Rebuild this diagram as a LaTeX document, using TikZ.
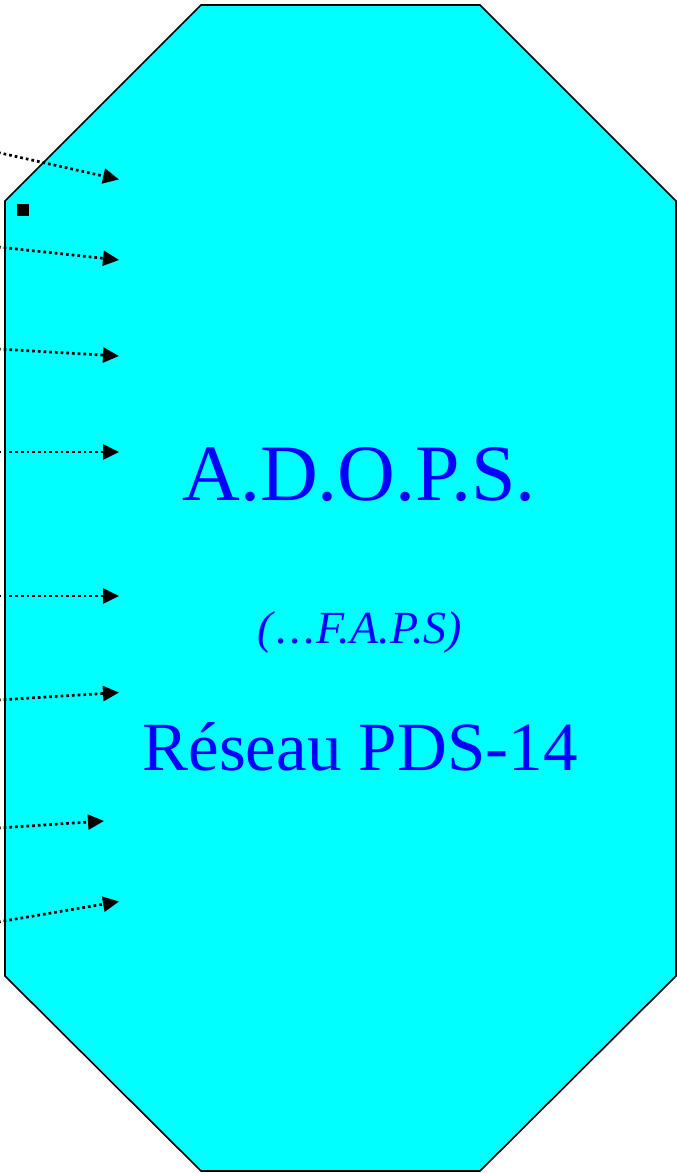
\documentclass[tikz,border=0pt]{standalone}
\usepackage{fontspec}
\setmainfont{Liberation Serif}
\usetikzlibrary{arrows.meta}
\definecolor{octfill}{RGB}{0,255,255}
\definecolor{txtblue}{RGB}{0,0,255}
\tikzset{
  link/.style={line width=2.7pt, dash pattern=on 2.7pt off 3pt, -{Triangle[length=16pt,width=15pt]}},
  octa/.style={fill=octfill, draw=black, line width=1.6pt, line join=miter},
  bigtxt/.style={text=txtblue, inner sep=0pt, anchor=base},
}
\begin{document}
\begin{tikzpicture}[x=1pt,y=-1pt]
\useasboundingbox (0,0) rectangle (677,1173);
\draw[octa] (201,5) -- (480,5) -- (676,201) -- (676,976) -- (480,1171) -- (201,1171) -- (5,976) -- (5,201) -- cycle;
\node[fill=black, minimum size=12pt, inner sep=0pt] (sq) at (22.5,209.5) {};
\node[bigtxt, font=\fontsize{80}{82}\selectfont] (adops) at (359,500) {A.D.O.P.S.};
\node[bigtxt, font=\fontsize{46}{48}\selectfont\itshape] (faps) at (360,643) {(\kern3pt.\kern2.5pt.\kern2.5pt.\kern1pt F.A.P.S)};
\node[bigtxt, font=\fontsize{69}{71}\selectfont] (reseau) at (360,770) {Réseau PDS-14};
\coordinate (s1) at (-2,152.5); \coordinate (t1) at (119,179.5);
\coordinate (s2) at (-2,247);   \coordinate (t2) at (119,260);
\coordinate (s3) at (-2,349);   \coordinate (t3) at (119,356);
\coordinate (s4) at (-2,452);   \coordinate (t4) at (119,452);
\coordinate (s5) at (-2,596);   \coordinate (t5) at (119,596);
\coordinate (s6) at (-2,700);   \coordinate (t6) at (119,692.5);
\coordinate (s7) at (-2,828);   \coordinate (t7) at (104,821);
\coordinate (s8) at (-2,922);   \coordinate (t8) at (119,901.5);
\foreach \i in {1,...,8} { \draw[link] (s\i) -- (t\i); }
\end{tikzpicture}
\end{document}
